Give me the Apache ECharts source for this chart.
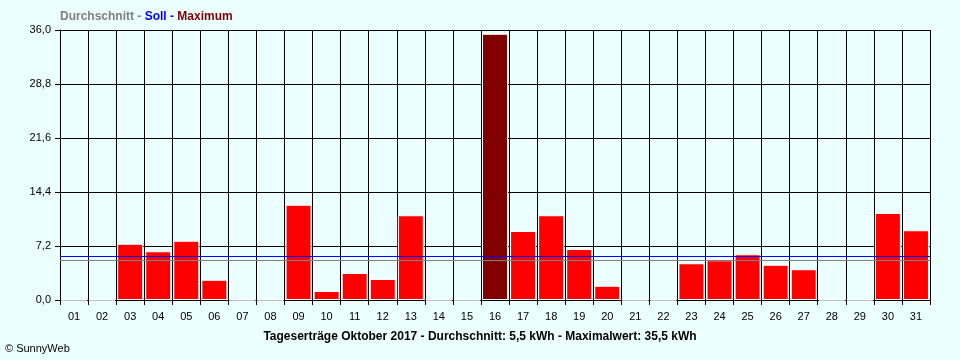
<!DOCTYPE html>
<html><head><meta charset="utf-8">
<script src="https://cdn.jsdelivr.net/npm/echarts@6/dist/echarts.min.js"></script>
<style>html,body{margin:0;padding:0;background:#EBFFFF;}#c{width:960px;height:360px;}</style>
</head><body><div id="c"></div>
<script>
const days = ['01','02','03','04','05','06','07','08','09','10','11','12','13','14','15','16','17','18','19','20','21','22','23','24','25','26','27','28','29','30','31'];
const yields = [0,0,7.5,6.5,7.9,2.7,0,0,12.7,1.2,3.6,2.8,11.3,0,0,35.5,9.2,11.3,6.8,1.9,0,0,4.9,5.3,6.1,4.7,4.1,0,0,11.6,9.3];
const averageLine = 5.3;
const sollLine = 5.8;
const yTicks = [0, 7.2, 14.4, 21.6, 28.8, 36];
const titleText = 'Tageserträge Oktober 2017 - Durchschnitt: 5,5 kWh - Maximalwert: 35,5 kWh';

const maxVal = Math.max(...yields);
const barData = yields.map(v => ({value: v, itemStyle: {color: v === maxVal ? '#800000' : '#FF0000'}}));

const chart = echarts.init(document.getElementById('c'), null, {renderer: 'canvas'});
chart.setOption({
  backgroundColor: '#EBFFFF',
  animation: false,
  grid: {left: 60, right: 30, top: 30, bottom: 60},
  xAxis: {
    type: 'category', data: days, boundaryGap: true,
    axisLine: {lineStyle: {color: '#000', width: 1}},
    axisTick: {show: true, interval: 0, length: 5, lineStyle: {color: '#000'}},
    axisLabel: {interval: 0, color: '#000', fontFamily: 'Liberation Sans', fontSize: 11, margin: 11},
    splitLine: {show: true, interval: 0, lineStyle: {color: '#000', width: 1}}
  },
  yAxis: {
    type: 'value', min: yTicks[0], max: yTicks[yTicks.length-1], interval: 7.2,
    axisLine: {show: true, lineStyle: {color: '#000'}},
    axisTick: {show: true, length: 5, lineStyle: {color: '#000'}},
    axisLabel: {color: '#000', fontFamily: 'Liberation Sans', fontSize: 11, margin: 9,
      formatter: v => v.toFixed(1).replace('.', ',')},
    splitLine: {show: true, lineStyle: {color: '#000', width: 1}}
  },
  series: [{
    type: 'bar', data: barData, barWidth: 26,
    itemStyle: {borderColor: '#FFFFFF', borderWidth: 1},
    markLine: {
      silent: true, symbol: 'none', label: {show: false},
      data: [
        {yAxis: averageLine, lineStyle: {color: '#808080', type: 'solid', width: 1}},
        {yAxis: sollLine, lineStyle: {color: '#0000FF', type: 'solid', width: 1}}
      ]
    }
  }],
  graphic: [
    {type: 'text', left: 60, top: 11, style: {
      text: '{a|Durchschnitt - }{b|Soll - }{c|Maximum}',
      font: 'bold 12px "Liberation Sans"',
      rich: {
        a: {fill: '#808080', font: 'bold 12px "Liberation Sans"'},
        b: {fill: '#0000FF', font: 'bold 12px "Liberation Sans"'},
        c: {fill: '#800000', font: 'bold 12px "Liberation Sans"'}
      }}},
    {type: 'text', left: 'center', top: 331, style: {
      text: titleText, fill: '#000', font: 'bold 12px "Liberation Sans"'}},
    {type: 'text', left: 5, top: 343, style: {
      text: '© SunnyWeb', fill: '#000', font: '11px "Liberation Sans"'}}
  ]
});
</script></body></html>
